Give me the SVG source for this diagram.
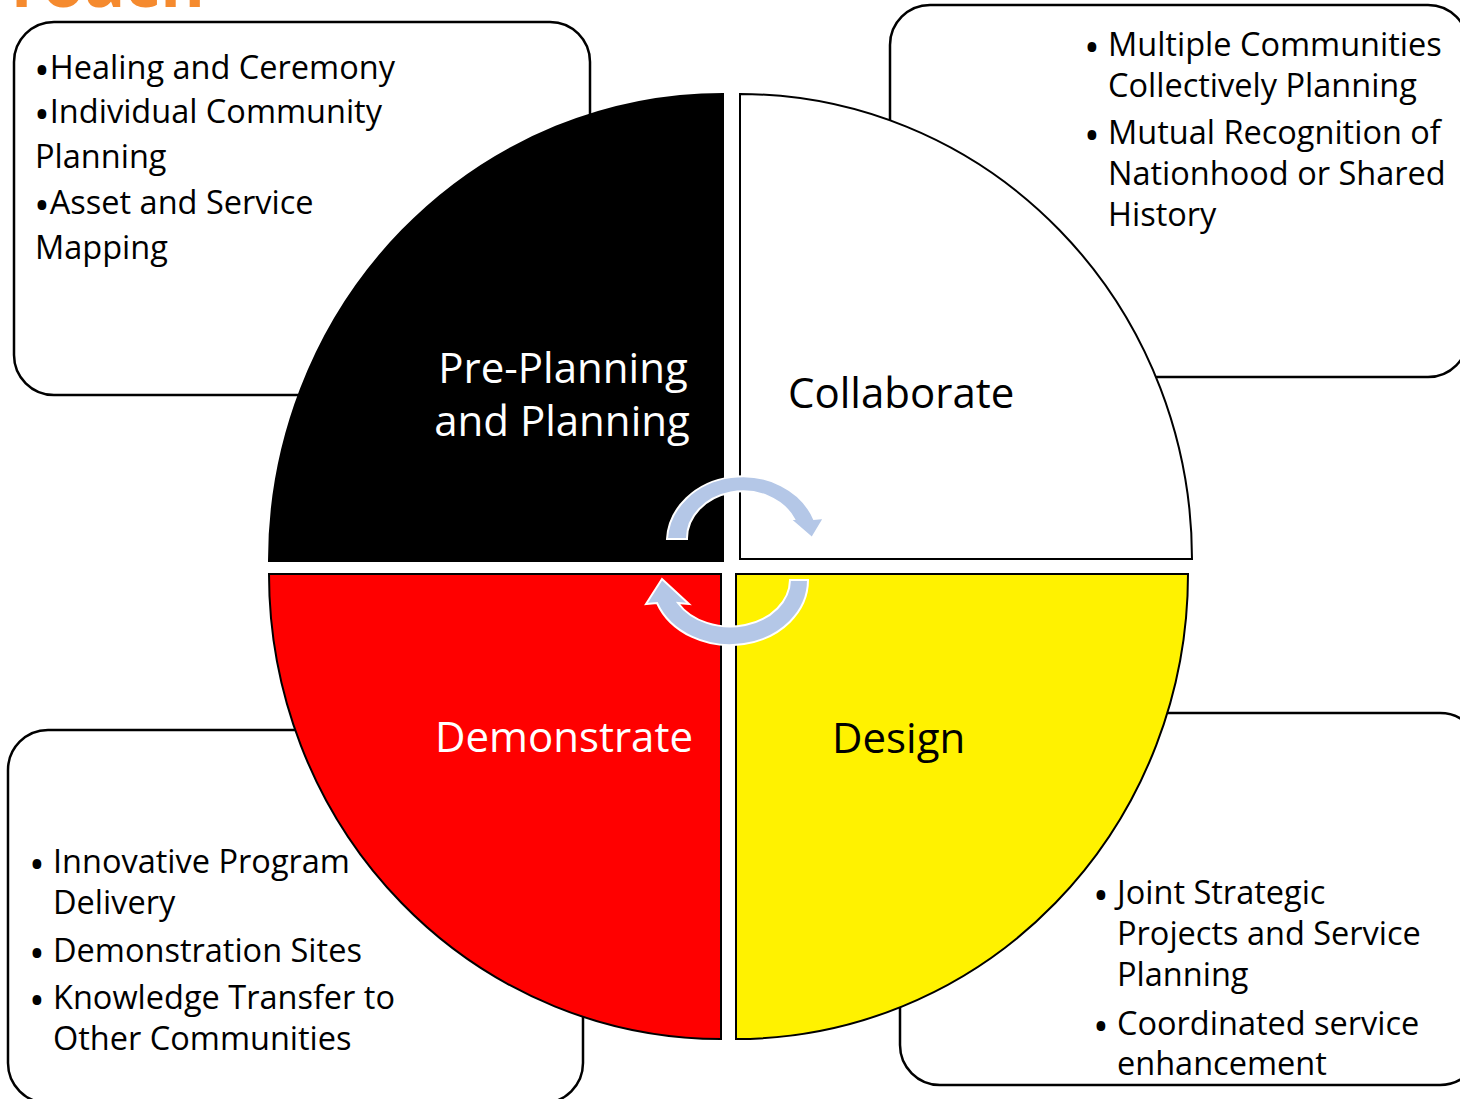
<svg xmlns="http://www.w3.org/2000/svg" width="1460" height="1099" viewBox="0 0 1460 1099">
<style>
.box{fill:#fff;stroke:#000;stroke-width:2.5}
.slice{stroke:#000;stroke-width:2}
.t{font-family:"Open Sans","Noto Sans","Liberation Sans",sans-serif;font-size:32.5px;fill:#000}
.b{font-size:42px}
.lbl{font-family:"Open Sans","Noto Sans","Liberation Sans",sans-serif;font-size:42px}
.arr{fill:#B4C7E7;stroke:#fff;stroke-width:2;stroke-linejoin:miter}
</style>
<rect width="1460" height="1099" fill="#fff"/>
<text x="205" y="7" text-anchor="end" font-family="Open Sans, Liberation Sans, sans-serif" font-size="68" font-weight="bold" fill="#F58A2E">roach</text>

<g id="box-tl"><rect class="box" x="14" y="22" width="576" height="373" rx="40"/></g>
<g id="box-tr"><rect class="box" x="890" y="5" width="578" height="372" rx="40"/></g>
<g id="box-bl"><rect class="box" x="8" y="730" width="575" height="373" rx="40"/></g>
<g id="box-br"><rect class="box" x="900" y="713" width="580" height="372" rx="40"/></g>

<g id="pre-planning"><path class="slice" fill="#000" d="M723,561 L723,94 A454,467 0 0 0 269,561 Z"/></g>
<g id="collaborate"><path class="slice" fill="#fff" d="M740,559 L740,94 A452,465 0 0 1 1192,559 Z"/></g>
<g id="demonstrate"><path class="slice" fill="#FF0000" d="M721,574 L269,574 A452,465 0 0 0 721,1039 Z"/></g>
<g id="design"><path class="slice" fill="#FFF200" d="M736,574 L1188,574 A452,465 0 0 1 736,1039 Z"/></g>

<g id="connectors">
<path class="arr" d="M667,539 A76,66 0 0 1 814,519 L824,518 L812,538 L790,519 L794,519 A56,47 0 0 0 687,539 Z"/>
<path class="arr" d="M790,580 L808,580 A78,65 0 0 1 657,603 L646,604 L662,579 L689,604 L678,603 A60,47 0 0 0 790,580 Z"/>
</g>

<g id="labels">
<text class="lbl" fill="#fff" text-anchor="middle"><tspan x="563" y="383">Pre-Planning</tspan><tspan x="562" y="436">and Planning</tspan></text>
<text class="lbl" fill="#000" x="788" y="408">Collaborate</text>
<text class="lbl" fill="#fff" x="435" y="752">Demonstrate</text>
<text class="lbl" fill="#000" x="832" y="753">Design</text>
</g>

<g id="text-tl">
<text class="t" x="34" y="79"><tspan class="b" dy="6">•</tspan><tspan dy="-6">Healing and Ceremony</tspan></text>
<text class="t" x="34" y="123"><tspan class="b" dy="6">•</tspan><tspan dy="-6">Individual Community</tspan></text>
<text class="t" x="35" y="168">Planning</text>
<text class="t" x="34" y="214"><tspan class="b" dy="6">•</tspan><tspan dy="-6">Asset and Service</tspan></text>
<text class="t" x="35" y="259">Mapping</text>
</g>
<g id="text-tr">
<text class="t" x="1084" y="56"><tspan class="b" dy="6">•</tspan><tspan x="1108" dy="-6">Multiple Communities</tspan></text>
<text class="t" x="1108" y="97">Collectively Planning</text>
<text class="t" x="1084" y="144"><tspan class="b" dy="6">•</tspan><tspan x="1108" dy="-6">Mutual Recognition of</tspan></text>
<text class="t" x="1108" y="185">Nationhood or Shared</text>
<text class="t" x="1108" y="226">History</text>
</g>
<g id="text-bl">
<text class="t" x="29" y="873"><tspan class="b" dy="6">•</tspan><tspan x="53" dy="-6">Innovative Program</tspan></text>
<text class="t" x="53" y="914">Delivery</text>
<text class="t" x="29" y="962"><tspan class="b" dy="6">•</tspan><tspan x="53" dy="-6">Demonstration Sites</tspan></text>
<text class="t" x="29" y="1009"><tspan class="b" dy="6">•</tspan><tspan x="53" dy="-6">Knowledge Transfer to</tspan></text>
<text class="t" x="53" y="1050">Other Communities</text>
</g>
<g id="text-br">
<text class="t" x="1093" y="904"><tspan class="b" dy="6">•</tspan><tspan x="1117" dy="-6">Joint Strategic</tspan></text>
<text class="t" x="1117" y="945">Projects and Service</text>
<text class="t" x="1117" y="986">Planning</text>
<text class="t" x="1093" y="1035"><tspan class="b" dy="6">•</tspan><tspan x="1117" dy="-6">Coordinated service</tspan></text>
<text class="t" x="1117" y="1075">enhancement</text>
</g>
</svg>
